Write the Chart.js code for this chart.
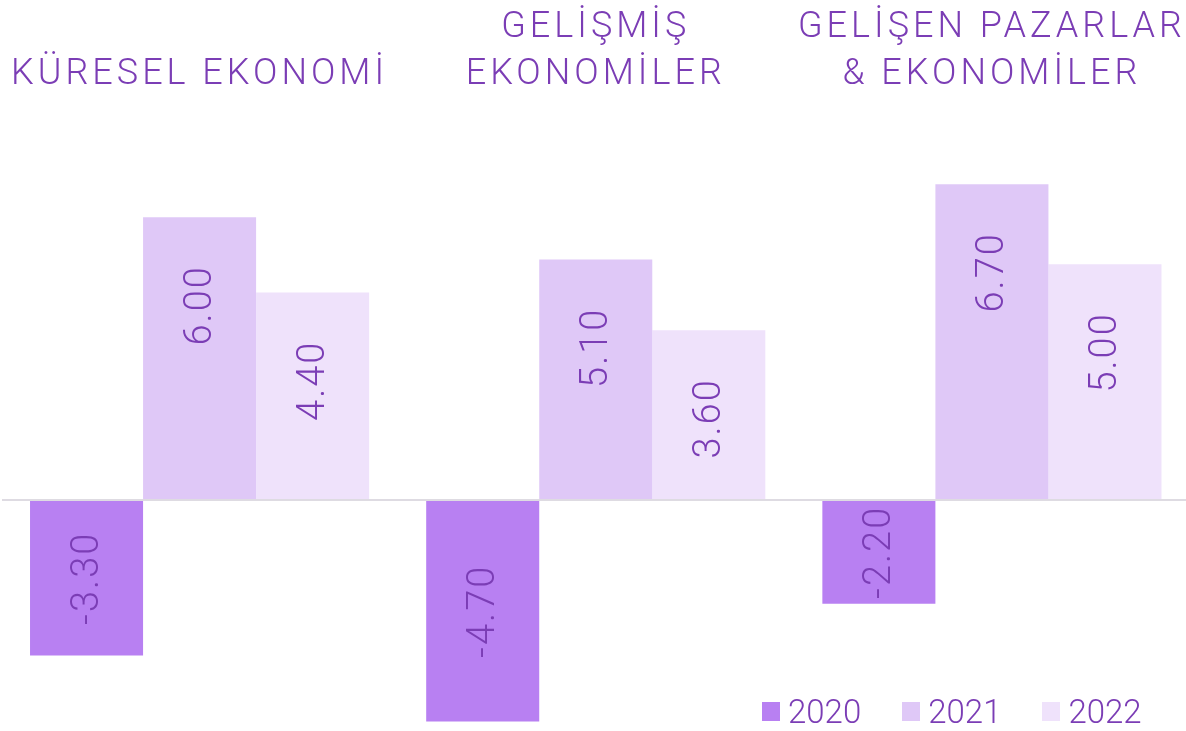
<!DOCTYPE html>
<html lang="tr">
<head>
<meta charset="utf-8">
<title>Küresel büyüme</title>
<script src="https://cdn.jsdelivr.net/npm/chart.js@4/dist/chart.umd.min.js"></script>
<style>
  html, body { margin: 0; padding: 0; background: #fff; overflow: hidden; }
  #wrap { position: absolute; left: 0; top: 0; width: 1190px; height: 731px; }
  #legend {
    position: absolute; left: 762px; top: 692px;
    display: flex; gap: 41px;
    font: 300 33px Roboto, sans-serif; color: #7b3db5;
  }
  #legend .item { display: flex; align-items: center; }
  #legend .box { width: 18px; height: 19px; margin-right: 8px; }
</style>
</head>
<body>
<div id="wrap"><canvas id="growthChart"></canvas></div>
<div id="legend"></div>
<script>
// categories (top labels, split in lines)
const categories = [
    ['KÜRESEL EKONOMİ'],
    ['GELİŞMİŞ', 'EKONOMİLER'],
    ['GELİŞEN PAZARLAR', '& EKONOMİLER']
];
const years = ['2020', '2021', '2022'];
const values2020 = [-3.3, -4.7, -2.2];
const values2021 = [6.0, 5.1, 6.7];
const values2022 = [4.4, 3.6, 5.0];

const TEXT = '#7b3db5';
const colors = ['#b880f2', '#dfc8f7', '#efe2fb'];
const FONT = 'Roboto, sans-serif';

// value labels drawn vertically inside the bars
const valueLabels = {
    id: 'valueLabels',
    afterDatasetsDraw(chart) {
        const ctx = chart.ctx;
        ctx.save();
        ctx.font = '300 38px ' + FONT;
        ctx.letterSpacing = '2px';
        ctx.fillStyle = TEXT;
        ctx.textBaseline = 'middle';
        chart.data.datasets.forEach((ds, i) => {
            chart.getDatasetMeta(i).data.forEach((bar, j) => {
                const v = ds.data[j];
                let y;
                if (v >= 0) {
                    y = bar.y + 48;
                    ctx.textAlign = 'right';
                } else {
                    y = (bar.y + bar.base) / 2;
                    ctx.textAlign = 'center';
                }
                ctx.save();
                ctx.translate(bar.x + 2, y);
                ctx.rotate(-Math.PI / 2);
                ctx.fillText(v.toFixed(2), 0, 0);
                ctx.restore();
            });
        });
        ctx.restore();
    }
};

// spaced capitals for the category titles
const titleSpacing = {
    id: 'titleSpacing',
    beforeDraw(chart) { chart.ctx.letterSpacing = '4px'; },
    beforeDatasetsDraw(chart) { chart.ctx.letterSpacing = '0px'; }
};

const seriesData = [values2020, values2021, values2022];

new Chart(document.getElementById('growthChart'), {
    type: 'bar',
    data: {
        labels: categories,
        datasets: years.map((y, i) => ({
            label: y,
            data: seriesData[i],
            backgroundColor: colors[i],
            borderWidth: 0,
            categoryPercentage: 0.856,
            barPercentage: 1
        }))
    },
    options: {
        responsive: true,
        maintainAspectRatio: false,
        animation: false,
        layout: { padding: { left: 1.5 } },
        plugins: {
            legend: { display: false },
            tooltip: { enabled: false }
        },
        scales: {
            x: {
                position: 'top',
                grid: { display: false, drawTicks: false },
                border: { display: false },
                ticks: {
                    color: TEXT,
                    font: { family: FONT, size: 36, weight: '300', lineHeight: 1.3 },
                    padding: 72,
                    maxRotation: 0,
                    autoSkip: false
                },
                afterFit(scale) {
                    scale.height = 170;
                    scale.paddingLeft = 0;
                    scale.paddingRight = 0;
                }
            },
            y: {
                min: -4.9,
                max: 7,
                z: 1,
                border: { display: false },
                ticks: { display: false, stepSize: 1 },
                grid: {
                    drawTicks: false,
                    lineWidth: 2,
                    color: (c) => c.tick && c.tick.value === 0 ? '#dedbe2' : 'rgba(0,0,0,0)'
                }
            }
        }
    },
    plugins: [valueLabels, titleSpacing]
});

// legend
const legendEl = document.getElementById('legend');
years.forEach((y, i) => {
    const item = document.createElement('div');
    item.className = 'item';
    const box = document.createElement('span');
    box.className = 'box';
    box.style.background = colors[i];
    const txt = document.createElement('span');
    txt.textContent = y;
    item.appendChild(box);
    item.appendChild(txt);
    legendEl.appendChild(item);
});
</script>
</body>
</html>
